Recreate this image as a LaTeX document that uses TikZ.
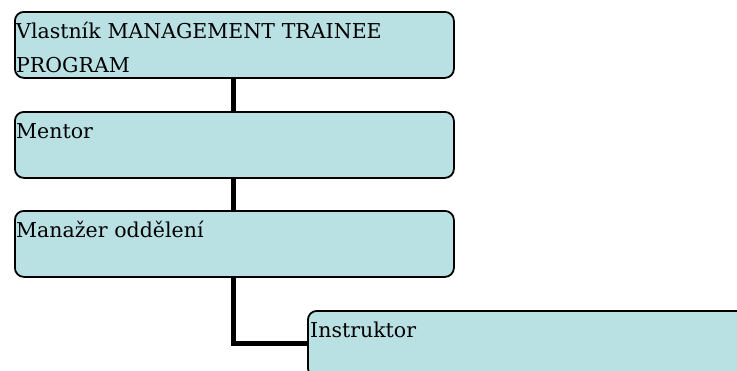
\documentclass[tikz,border=0pt]{standalone}
\usepackage{fontspec}
\setmainfont{DejaVu Serif}
\usetikzlibrary{calc}
\definecolor{boxfill}{RGB}{185,224,227}
\tikzset{
  x=1pt, y=-1pt,
  orgbox/.style={draw=black, line width=1.8pt, fill=boxfill, rounded corners=9pt,
    minimum width=439pt, minimum height=66pt, inner sep=0pt, anchor=north west},
  lbl/.style={inner sep=0pt, anchor=base west, text width=430pt, align=left,
    font=\fontsize{20.5}{34.5}\selectfont, text=black},
  link/.style={line width=5pt, draw=black}
}
\begin{document}
\begin{tikzpicture}
\useasboundingbox (0,0) rectangle (737,370);
\clip (0,0) rectangle (737,370);
% boxes
\node[orgbox] (b1) at (14,11) {};
\node[orgbox] (b2) at (14,111) {};
\node[orgbox] (b3) at (14,210) {};
\node[orgbox] (b4) at (307,310) {};
% connectors
\coordinate (bend) at (233,343);
\draw[link] (233,77) -- (233,111);
\draw[link] (233,177) -- (233,210);
\draw[link] (233,276) -- (bend) -- (b4.west |- bend);
% labels
\node[lbl] (t1) at ($(b1.north west)+(2,27)$) {Vlastník MANAGEMENT TRAINEE\\PROGRAM};
\node[lbl] (t2) at ($(b2.north west)+(2,27)$) {Mentor};
\node[lbl] (t3) at ($(b3.north west)+(2,27)$) {Manažer oddělení};
\node[lbl] (t4) at ($(b4.north west)+(3,27)$) {Instruktor};
\end{tikzpicture}
\end{document}
